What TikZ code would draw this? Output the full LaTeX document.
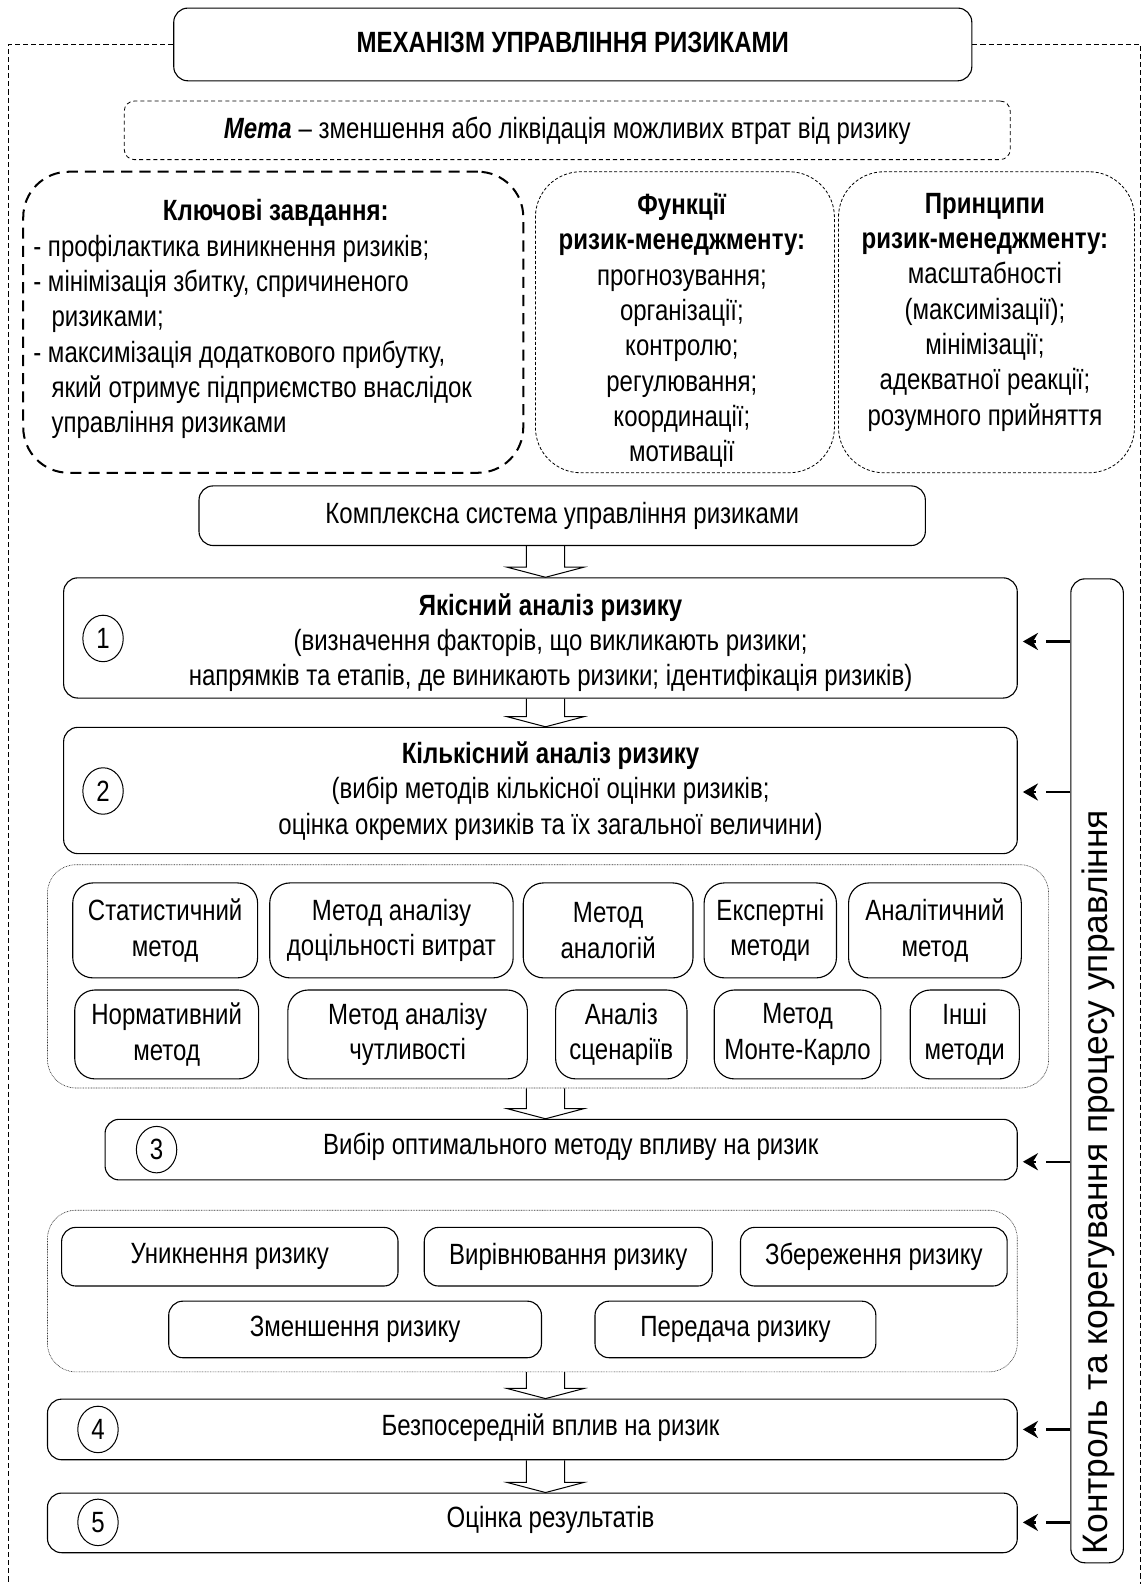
\documentclass[tikz,border=0pt]{standalone}
\usepackage{fontspec}
\setmainfont{Liberation Sans}[FakeStretch=0.82]
\newfontfamily\widefont{Liberation Sans}
\usetikzlibrary{shapes.geometric,arrows.meta,calc}
\newcommand\bx[7][]{\node[#1, minimum width={#5-#3}, minimum height={#6-#4}] (#2) at ({(#3+#5)/2},{(#4+#6)/2}) {#7};}
\newcommand\harrow[2]{\draw[line width=1pt] let \p1=(#1), \p2=(#2) in (\x1-19pt,\y1) -- (\x1-19pt,\y2+10pt) -- (\x1-38pt,\y2+10pt) -- (\x1,\y2) -- (\x1+38pt,\y2+10pt) -- (\x1+19pt,\y2+10pt) -- (\x1+19pt,\y1);}
\begin{document}
\begin{tikzpicture}[x=1pt,y=-1pt,
  every node/.style={inner sep=0pt, align=center, font=\fontsize{29}{35}\selectfont},
  rbox/.style={draw, rounded corners=14pt, line width=1.1pt},
  mbox/.style={draw, rounded corners=20pt, line width=1.1pt},
  metabox/.style={draw, rounded corners=10pt, line width=0.8pt, dash pattern=on 4pt off 3pt},
  keybox/.style={draw, rounded corners=45pt, line width=2pt, dash pattern=on 11pt off 7pt},
  thinbox/.style={draw, rounded corners=45pt, line width=0.8pt, dash pattern=on 3pt off 2pt},
  cont/.style={draw, rounded corners=28pt, line width=0.6pt, dash pattern=on 0.8pt off 0.8pt, draw=black!80},
  frame/.style={line width=0.9pt, dash pattern=on 5pt off 3pt},
  numc/.style={draw, ellipse, line width=1pt, minimum width=40pt, minimum height=46pt},
  fb/.style={line width=2.2pt, dash pattern=on 24pt off 10pt, -{Stealth[length=15pt,width=17pt,inset=5pt]}, shorten >=5pt}
]
\useasboundingbox (0,0) rectangle (1133,1568);

% top
\bx[rbox]{title}{172}{8}{962}{80}{\raisebox{5pt}{\bfseries МЕХАНІЗМ УПРАВЛІННЯ РИЗИКАМИ}}
\draw[frame] (title.west) -| (8,1568);
\draw[frame] (title.east) -| (1129,1568);
\bx[metabox]{meta}{123}{100}{1000}{158}{\textbf{\textit{Мета}} – зменшення або ліквідація можливих втрат від ризику}

\bx[keybox]{key}{23}{170}{518}{468}{}
\node[text width=480pt, align=flush left] (keyt) at (273,316) {\makebox[480pt]{\bfseries Ключові завдання:}\\
- профілактика виникнення ризиків;\\
- мінімізація збитку, спричиненого\\
\hspace*{18pt}ризиками;\\
- максимізація додаткового прибутку,\\
\hspace*{18pt}який отримує підприємство внаслідок\\
\hspace*{18pt}управління ризиками};

\bx[thinbox]{func}{530}{170}{826}{468}{}
\node (funct) at (675,327) {\textbf{Функції}\\ \textbf{ризик-менеджменту:}\\ прогнозування;\\ організації;\\ контролю;\\ регулювання;\\ координації;\\ мотивації};
\bx[thinbox]{princ}{830}{170}{1123}{468}{}
\node (princt) at (975,309) {\textbf{Принципи}\\ \textbf{ризик-менеджменту:}\\ масштабності\\ (максимізації);\\ мінімізації;\\ адекватної реакції;\\ розумного прийняття};

% main chain
\bx[rbox]{kom}{197}{481}{916}{540}{Комплексна система управління ризиками}

\bx[rbox]{b1}{63}{572}{1007}{691}{}
\node (t1) at (545,636) {\textbf{Якісний аналіз ризику}\\ (визначення факторів, що викликають ризики;\\ напрямків та етапів, де виникають ризики; ідентифікація ризиків)};
\node[numc] (c1) at (102,632) {1};

\bx[rbox]{b2}{63}{720}{1007}{845}{}
\node (t2) at (545,783) {\textbf{Кількісний аналіз ризику}\\ (вибір методів кількісної оцінки ризиків;\\ оцінка окремих ризиків та їх загальної величини)};
\node[numc] (c2) at (102,783) {2};

\bx[cont]{mc}{47}{856}{1038}{1077}{}
\bx[mbox]{m1}{72}{874}{255}{968}{Статистичний\\метод}
\bx[mbox]{m2}{267}{874}{508}{968}{Метод аналізу\\доцільності витрат}
\bx[mbox]{m3}{518}{874}{686}{968}{Метод\\аналогій}
\bx[mbox]{m4}{697}{874}{828}{968}{Експертні\\методи}
\bx[mbox]{m5}{840}{874}{1011}{968}{Аналітичний\\метод}
\bx[mbox]{m6}{74}{980}{256}{1068}{Нормативний\\метод}
\bx[mbox]{m7}{285}{980}{522}{1068}{Метод аналізу\\чутливості}
\bx[mbox]{m8}{550}{980}{680}{1068}{Аналіз\\сценаріїв}
\bx[mbox]{m9}{707}{980}{872}{1068}{Метод\\Монте-Карло}
\bx[mbox]{m10}{901}{980}{1009}{1068}{Інші\\методи}

\bx[rbox]{b3}{104}{1108}{1007}{1168}{}
\node (t3) at (565,1135) {Вибір оптимального методу впливу на ризик};
\node[numc] (c3) at (155,1138) {3};

\bx[cont]{wc}{47}{1198}{1007}{1358}{}
\bx[rbox]{w1}{61}{1215}{394}{1273}{Уникнення ризику}
\bx[rbox]{w2}{420}{1215}{705}{1273}{Вирівнювання ризику}
\bx[rbox]{w3}{733}{1215}{997}{1273}{Збереження ризику}
\bx[rbox]{w4}{167}{1288}{536}{1344}{Зменшення ризику}
\bx[rbox]{w5}{589}{1288}{867}{1344}{Передача ризику}

\bx[rbox]{b4}{47}{1385}{1007}{1445}{}
\node (t4) at (545,1413) {Безпосередній вплив на ризик};
\node[numc] (c4) at (97,1415) {4};

\bx[rbox]{b5}{47}{1478}{1007}{1537}{}
\node (t5) at (545,1505) {Оцінка результатів};
\node[numc] (c5) at (97,1507) {5};

% hollow arrows
\coordinate (ax) at (540,0);
\harrow{ax |- kom.south}{ax |- b1.north}
\harrow{ax |- b1.south}{ax |- b2.north}
\harrow{ax |- mc.south}{ax |- b3.north}
\harrow{ax |- wc.south}{ax |- b4.north}
\harrow{ax |- b4.south}{ax |- b5.north}

% control
\bx[rbox]{ctrl}{1060}{573}{1112}{1547}{}
\node[rotate=90, font=\widefont\fontsize{35}{38}\selectfont] (ctrlt) at (1087,1170) {Контроль та корегування процесу управління};

\coordinate (y1) at (0,635);
\coordinate (y2) at (0,784);
\coordinate (y3) at (0,1150);
\coordinate (y4) at (0,1415);
\coordinate (y5) at (0,1507);
\draw[fb] (ctrl.west |- y1) -- (b1.east |- y1);
\draw[fb] (ctrl.west |- y2) -- (b2.east |- y2);
\draw[fb] (ctrl.west |- y3) -- (b3.east |- y3);
\draw[fb] (ctrl.west |- y4) -- (b4.east |- y4);
\draw[fb] (ctrl.west |- y5) -- (b5.east |- y5);
\end{tikzpicture}
\end{document}
